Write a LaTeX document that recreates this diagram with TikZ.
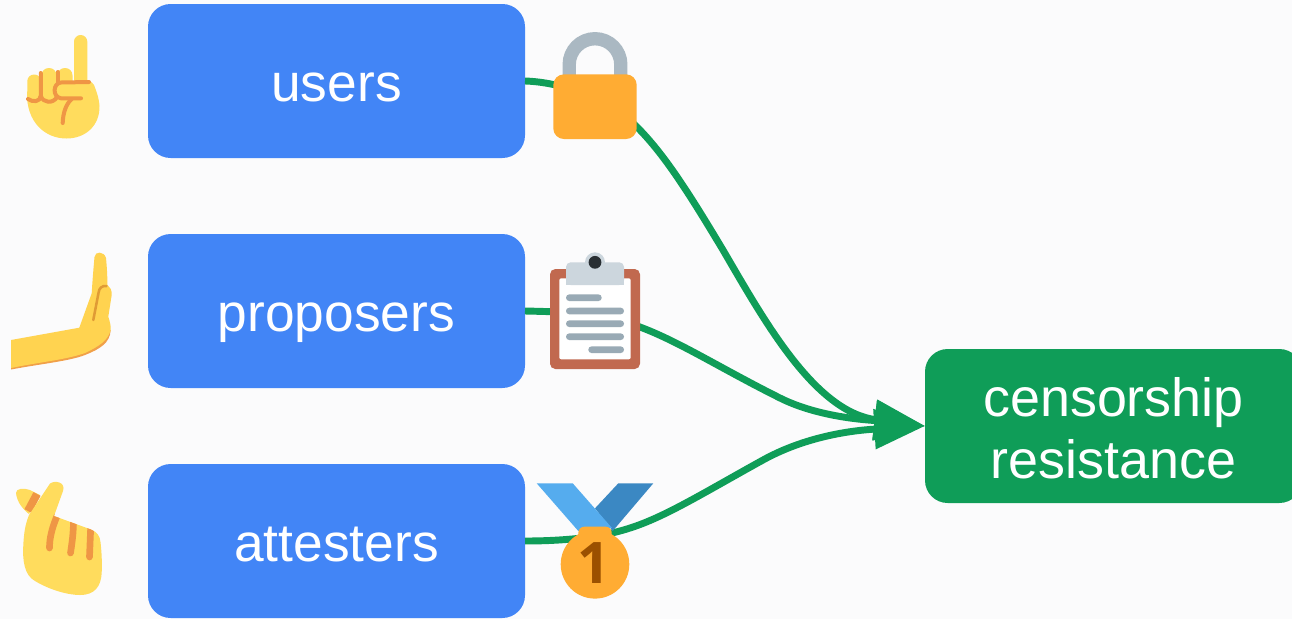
\documentclass[tikz,border=0pt]{standalone}
\usepackage{fontspec}
\setmainfont{Liberation Sans}
\newfontfamily\rankfont{Open Sans}
\usetikzlibrary{arrows.meta}
\definecolor{bgc}{HTML}{FBFBFC}
\definecolor{boxblue}{HTML}{4285F6}
\definecolor{boxgreen}{HTML}{0F9D58}
\definecolor{handy}{HTML}{FFDC5D}
\definecolor{handz}{HTML}{FFD350}
\definecolor{handor}{HTML}{EF9645}
\definecolor{handcr}{HTML}{E09B35}
\definecolor{gold}{HTML}{FFAC33}
\definecolor{steel}{HTML}{AAB8C2}
\definecolor{clay}{HTML}{C1694F}
\definecolor{clipc}{HTML}{CCD6DD}
\definecolor{dark}{HTML}{292F33}
\definecolor{lineg}{HTML}{99AAB5}
\definecolor{ribl}{HTML}{55ACEE}
\definecolor{ribd}{HTML}{3B88C3}
\definecolor{brown}{HTML}{9B5000}
\tikzset{
  actor/.style={rectangle,rounded corners=17pt,fill=boxblue,text=white,inner sep=0pt,outer sep=0pt,
    minimum width=282.75pt,minimum height=115.5pt,text height=37.5pt,text depth=7.5pt,
    font=\fontsize{40}{46.5}\selectfont},
  goal/.style={actor,fill=boxgreen,text height=,text depth=,align=center,
    font=\fontsize{40.4}{46.5}\selectfont},
  conn/.style={draw=boxgreen,line width=5.2pt,-{Triangle[length=38pt,width=29pt]}},
  crease/.style={draw=handor,line width=3pt,line cap=round,line join=round},
  textline/.style={fill=lineg,rounded corners=2.4pt},
}
\begin{document}
\begin{tikzpicture}[x=0.75pt,y=-0.75pt]
\useasboundingbox (0,0) rectangle (1292,619);
\clip (0,0) rectangle (1292,619);
\fill[bgc] (0,0) rectangle (1292,619);

% boxes
\node[actor] (users) at (336.5,81) {users};
\node[actor] (proposers) at (336.5,311) {proposers};
\node[actor] (attesters) at (336.5,541) {attesters};
\node[goal] (cr) at (1113.5,426) {\rule{0pt}{32pt}censorship\\resistance};

% connectors
\draw[conn] (users.east) .. controls (560,82) and (610,98) .. (637,127)
  .. controls (665,155) and (690,195) .. (723,250)
  .. controls (765,322) and (815,412) .. (cr.west);
\draw[conn] (proposers.east) .. controls (570,312) and (605,313) .. (640,327)
  .. controls (680,342) and (720,368) .. (780,398)
  .. controls (820,418) and (870,420) .. (cr.west);
\draw[conn] (attesters.east) .. controls (560,541) and (600,538) .. (630,528)
  .. controls (665,517) and (705,492) .. (763,460)
  .. controls (810,434) and (860,430) .. (cr.west);

% pointing hand
\fill[handy,rounded corners=5pt] (74,35) rectangle (87.3,90);
\fill[handy] (27,92) .. controls (26,122) and (45,138.5) .. (66.5,138.5)
  .. controls (86,138.5) and (100,125) .. (99.5,106)
  .. controls (99,98) and (96,90) .. (94,85)
  .. controls (93,82.5) and (91,81.5) .. (88,81.5) -- (40,81.5) -- cycle;
\fill[handy,rounded corners=5pt] (27.3,74.5) rectangle (41,103);
\fill[handy,rounded corners=5.5pt] (41.5,68) rectangle (56.5,103);
\fill[handy,rounded corners=5.5pt] (57.5,68) rectangle (72.5,95);
\draw[crease] (28,99) .. controls (33,102.5) and (40,102) .. (40.8,96) -- (40.8,73);
\draw[crease] (40.8,96) .. controls (43,103) and (53,104) .. (57,97);
\draw[crease] (57.5,72) -- (57.5,83);
\draw[crease] (89,82) -- (61,82.5) .. controls (53,83) and (52,97) .. (61,98.3) -- (81,98.3);
\draw[crease] (71.7,99) .. controls (66,104) and (63,113) .. (62.7,123);

% flat hand
\fill[handor!85!handy] (11,343) -- (80,332) -- (110.7,330)
  .. controls (110,343) and (100,349) .. (85,355) .. controls (70,361) and (40,364) .. (11,369.5) -- cycle;
\fill[handz] (11,340) -- (79.3,327.7) -- (91.7,293.3)
  .. controls (92.5,280) and (93.5,268) .. (94.5,257)
  .. controls (95,251) and (104,251) .. (106,258)
  .. controls (107,268) and (107.3,276) .. (107.5,285)
  .. controls (110,287) and (112,290) .. (111.7,295)
  -- (108.3,316.7) .. controls (110,322) and (111,326) .. (110.7,330)
  .. controls (108,340) and (100,346) .. (85,353)
  .. controls (65,360) and (40,362) .. (11,368) -- cycle;
\draw[draw=handcr,line width=1.9pt,line cap=round] (93.3,320) -- (98.5,293)
  .. controls (99,288) and (102,285.5) .. (106.5,286);

% crossed fingers hand
\fill[handy] (16,493) .. controls (16,488) and (24,488) .. (30,490) -- (40,495) -- (29,514)
  .. controls (24,510) and (17,503) .. (16,493) -- cycle;
\draw[draw=handor,line width=6pt] (37,494) -- (28,511);
\begin{scope}
\path[clip] (50,483.5) .. controls (55,480) and (66,482) .. (63,491) -- (54,516)
  -- (91,529.5) .. controls (97,532) and (100,536) .. (100.5,542)
  .. controls (102,555) and (102,565) .. (101.7,573)
  .. controls (101,586) and (95,595) .. (80,595)
  .. controls (68,595) and (50,590) .. (35,581)
  .. controls (24,575) and (22.5,560) .. (23.3,545)
  .. controls (24,533) and (25,525) .. (29,515) -- cycle;
\fill[handy] (0,470) rectangle (120,610);
\draw[draw=handor,line width=5pt,line cap=round] (49.5,548) .. controls (49.5,538) and (52,528) .. (57,516);
\draw[draw=handor,line width=5pt,line cap=round] (70.5,553) .. controls (72,543) and (73.5,533) .. (73.5,520);
\draw[draw=handor,line width=5pt,line cap=round] (89.5,557) -- (90.8,525);
\end{scope}

% lock
\draw[draw=steel,line width=10pt] (569.2,80) -- (569.2,64.5) arc[start angle=180,end angle=360,radius=25.8] -- (620.8,80);
\fill[gold,rounded corners=8pt] (553.3,74.3) rectangle (636.7,139);

% clipboard
\fill[clay,rounded corners=4pt] (550,269) rectangle (640,369);
\fill[white,rounded corners=1.5pt] (559.3,278.3) rectangle (630.7,359.3);
\fill[clipc] (595,262.3) circle[radius=10];
\fill[clipc,rounded corners=3.5pt] (566,285) -- (566,262.3) -- (624,262.3) -- (624,285) -- cycle;
\fill[clipc] (566,272) rectangle (624,285);
\fill[dark] (595,262.3) circle[radius=6.4];
\fill[textline] (566,294.4) rectangle (601.7,301);
\fill[textline] (566,307.7) rectangle (624,314.3);
\fill[textline] (566,320.4) rectangle (624,327);
\fill[textline] (566,333.4) rectangle (624,340);
\fill[textline] (588.3,346.4) rectangle (624,353);

% medal
\fill[ribd] (653.3,483.3) -- (618.3,483.3) -- (595,508.3) -- (612.7,531) -- cycle;
\fill[ribl] (536.7,483.3) -- (572.7,483.3) -- (612,528) -- (578.3,531) -- cycle;
\fill[gold] (595,564.3) circle[radius=34.3];
\fill[gold,rounded corners=4.5pt] (578.3,526.7) rectangle (611.7,545);
\node[text=brown,inner sep=0pt,font=\rankfont\fontsize{43}{43}\selectfont\bfseries] (rank) at (594,563.5) {1};
\end{tikzpicture}
\end{document}
